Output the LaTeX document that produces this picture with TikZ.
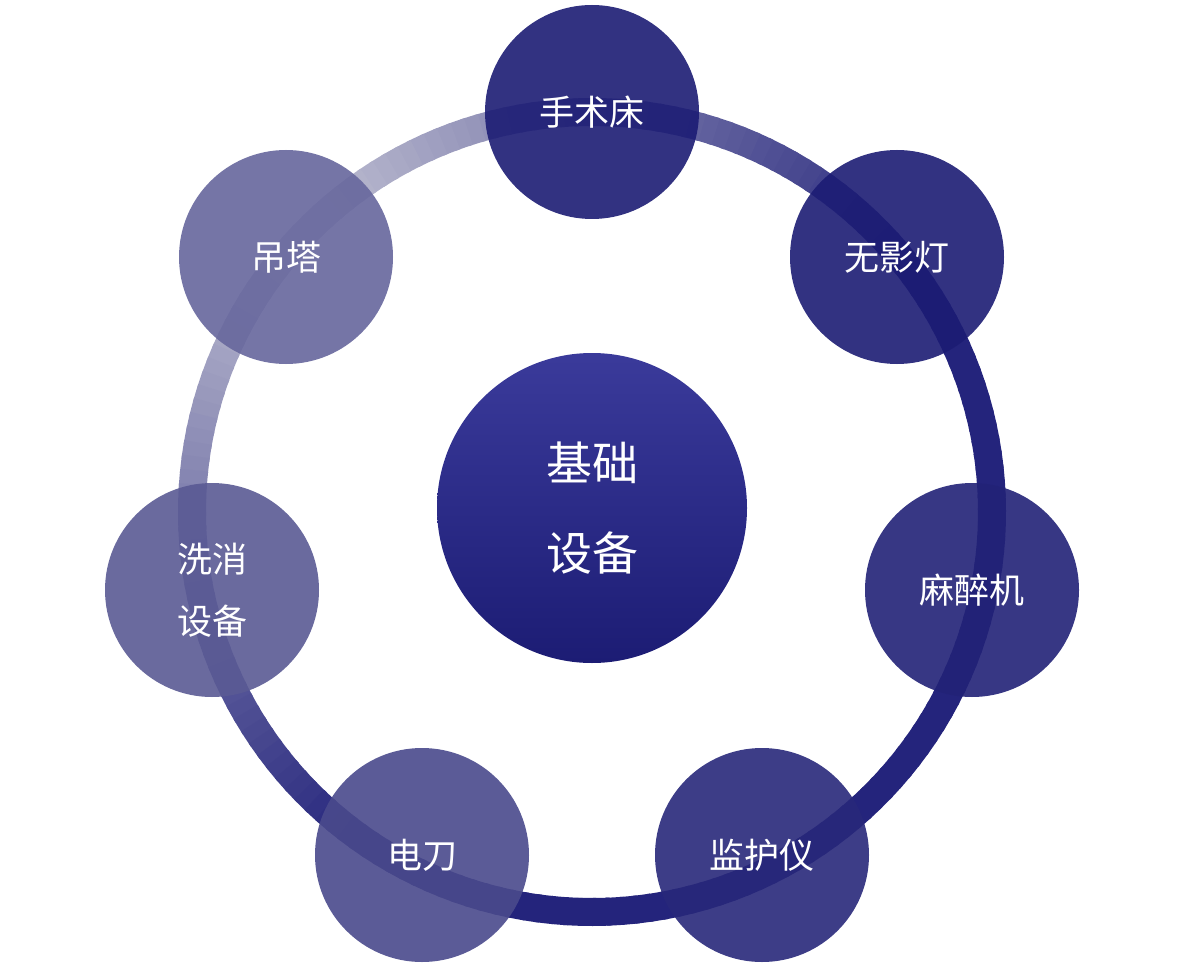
\documentclass[tikz,border=0pt]{standalone}
\usepackage{fontspec}
\newfontfamily\cjk{Noto Sans CJK SC}
\definecolor{ringlight}{HTML}{C4C4D4}
\definecolor{ringdark}{HTML}{24247C}
\definecolor{nodedark}{HTML}{1C1C74}
\definecolor{nodelight}{HTML}{5A5A94}
\begin{document}
\begin{tikzpicture}[x=1pt,y=-1pt,
  bub/.style={circle,minimum size=214pt,inner sep=0pt,text=white,font=\cjk\fontsize{35}{62}\selectfont,fill opacity=0.9,text opacity=1,align=center}]
\useasboundingbox[fill=white] (0,0) rectangle (1186,976);
\foreach \a in {0,2,...,358}{
  \pgfmathsetmacro\d{min(abs(\a-135),360-abs(\a-135))}
  \pgfmathtruncatemacro\p{min(100,\d/1.0)}
  \draw[line width=28pt,color=ringdark!\p!ringlight]
    ({592+400*cos(\a)},{512-400*sin(\a)}) arc[start angle=-\a,end angle=-\a-2.6,radius=400];
}
\node[bub,fill=nodedark] (a) at (592,112) {手术床};
\node[bub,fill=nodedark] (b) at (897,257) {无影灯};
\node[bub,fill=nodedark!90!nodelight] (c) at (972,590) {麻醉机};
\node[bub,fill=nodedark!80!nodelight] (d) at (762,855) {监护仪};
\node[bub,fill=nodelight!75!nodedark] (e) at (422,855) {电刀};
\node[bub,fill=nodelight] (f) at (212,590) {洗消\\设备};
\node[bub,fill=nodelight!92!white] (g) at (286,257) {吊塔};
\node[circle,minimum size=310pt,inner sep=0pt,top color=nodedark!85!blue!85!white,bottom color=nodedark,text=white,font=\cjk\fontsize{46}{90}\selectfont,align=center] (m) at (592,508) {基础\\设备};
\end{tikzpicture}
\end{document}
